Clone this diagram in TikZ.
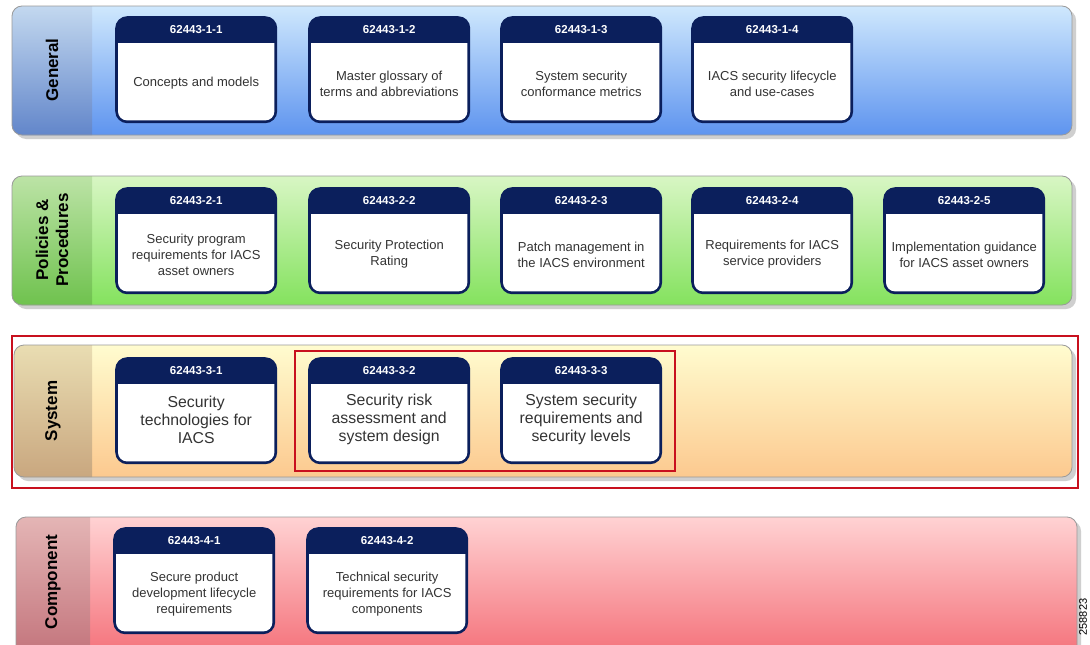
\documentclass[tikz,border=0pt]{standalone}
\usepackage{fontspec}
\setmainfont{Liberation Sans}
\definecolor{navy}{HTML}{0B1F5C}
\definecolor{txtgray}{HTML}{333333}
\definecolor{frame}{HTML}{C8101E}
\definecolor{shadowc}{HTML}{CFCFCF}
\definecolor{bandline}{HTML}{9A9A9A}
\definecolor{genT}{HTML}{CFE8FD}\definecolor{genB}{HTML}{5E94EF}
\definecolor{genST}{HTML}{C3D8EF}\definecolor{genSB}{HTML}{6286CA}
\definecolor{polT}{HTML}{D8F6C4}\definecolor{polB}{HTML}{84E25E}
\definecolor{polST}{HTML}{BCE3A6}\definecolor{polSB}{HTML}{6FC24E}
\definecolor{sysT}{HTML}{FFFCCF}\definecolor{sysB}{HTML}{FCC98F}
\definecolor{sysST}{HTML}{E9DDB2}\definecolor{sysSB}{HTML}{C9A77F}
\definecolor{comT}{HTML}{FFD2D3}\definecolor{comB}{HTML}{F46E77}
\definecolor{comST}{HTML}{E4B5B5}\definecolor{comSB}{HTML}{C2727A}
\newcommand\docbox[6]{%
  \node[boxframe, anchor=north west] (#1) at (#2,#3) {};
  \begin{scope}
    \clip ([yshift=-27pt]#1.north west) rectangle (#1.south east);
    \fill[white, rounded corners=9pt] ([xshift=3pt,yshift=-10pt]#1.north west) rectangle ([xshift=-3pt,yshift=3pt]#1.south east);
  \end{scope}
  \node[hdrtext] (#1-h) at ([yshift=-13.5pt]#1.north) {#4};
  \node[bodytext, #6] (#1-t) at ([yshift=-67.5pt]#1.north) {#5};
}
\newcommand\bandbox[6]{% x1 y1 x2 y2 stripx prefix
  \fill[shadowc, rounded corners=10pt] (#1+4,#2+4) rectangle (#3+4,#4+4);
  \begin{scope}
    \clip[rounded corners=10pt] (#1,#2) rectangle (#3,#4);
    \shade[top color=#6T, bottom color=#6B] (#1,#2) rectangle (#3,#4);
    \shade[top color=#6ST, bottom color=#6SB] (#1,#2) rectangle (#5,#4);
  \end{scope}
  \draw[bandline, line width=0.8pt, rounded corners=10pt] (#1,#2) rectangle (#3,#4);
}
\begin{document}
\begin{tikzpicture}[x=1pt,y=-1pt,
  boxframe/.style={fill=navy, draw=none, rounded corners=12pt, minimum width=162pt, minimum height=107pt, inner sep=0pt},
  hdrtext/.style={text=white, font=\bfseries\fontsize{11.5}{12}\selectfont, inner sep=0pt},
  bodytext/.style={align=center, text=txtgray, inner sep=0pt},
  smtext/.style={font=\fontsize{13}{16}\selectfont},
  lgtext/.style={font=\fontsize{15.8}{18}\selectfont, yshift=5pt},
  bandlabel/.style={rotate=90, align=center, font=\bfseries\fontsize{17}{20}\selectfont, text=black, inner sep=0pt},
  redframe/.style={draw=frame, line width=2.2pt}]
\clip (0,0) rectangle (1090,645);
\useasboundingbox (0,0) rectangle (1090,645);
\fill[white] (0,0) rectangle (1090,645);

% General
\bandbox{12}{6}{1072}{135}{92}{gen}
\node[bandlabel] (lgen) at (52,70) {General};
\docbox{b11}{115}{16}{62443-1-1}{Concepts and models}{smtext}
\docbox{b12}{308}{16}{62443-1-2}{Master glossary of\\terms and abbreviations}{smtext}
\docbox{b13}{500}{16}{62443-1-3}{System security\\conformance metrics}{smtext}
\docbox{b14}{691}{16}{62443-1-4}{IACS security lifecycle\\and use-cases}{smtext}

% Policies & Procedures
\bandbox{12}{176}{1072}{305}{92}{pol}
\node[bandlabel] (lpol) at (52,240) {Policies \&\\Procedures};
\docbox{b21}{115}{187}{62443-2-1}{Security program\\requirements for IACS\\asset owners}{smtext}
\docbox{b22}{308}{187}{62443-2-2}{Security Protection\\Rating}{smtext}
\docbox{b23}{500}{187}{62443-2-3}{Patch management in\\the IACS environment}{smtext}
\docbox{b24}{691}{187}{62443-2-4}{Requirements for IACS\\service providers}{smtext}
\docbox{b25}{883}{187}{62443-2-5}{Implementation guidance\\for IACS asset owners}{smtext}

% System
\bandbox{14}{345}{1072}{477}{92}{sys}
\node[bandlabel] (lsys) at (53,411) {System};
\docbox{b31}{115}{357}{62443-3-1}{Security\\technologies for\\IACS}{lgtext}
\docbox{b32}{308}{357}{62443-3-2}{Security risk\\assessment and\\system design}{lgtext}
\docbox{b33}{500}{357}{62443-3-3}{System security\\requirements and\\security levels}{lgtext}
\draw[redframe] (12,336) rectangle (1078,488);
\draw[redframe] (295,351) rectangle (675,471);

% Component
\bandbox{16}{517}{1077}{660}{90}{com}
\node[bandlabel] (lcomp) at (53,582) {Component};
\docbox{b41}{113}{527}{62443-4-1}{Secure product\\development lifecycle\\requirements}{smtext}
\docbox{b42}{306}{527}{62443-4-2}{Technical security\\requirements for IACS\\components}{smtext}

\node[rotate=90, font=\fontsize{11}{12}\selectfont, inner sep=0pt] (num) at (1083,617) {258823};
\end{tikzpicture}
\end{document}
